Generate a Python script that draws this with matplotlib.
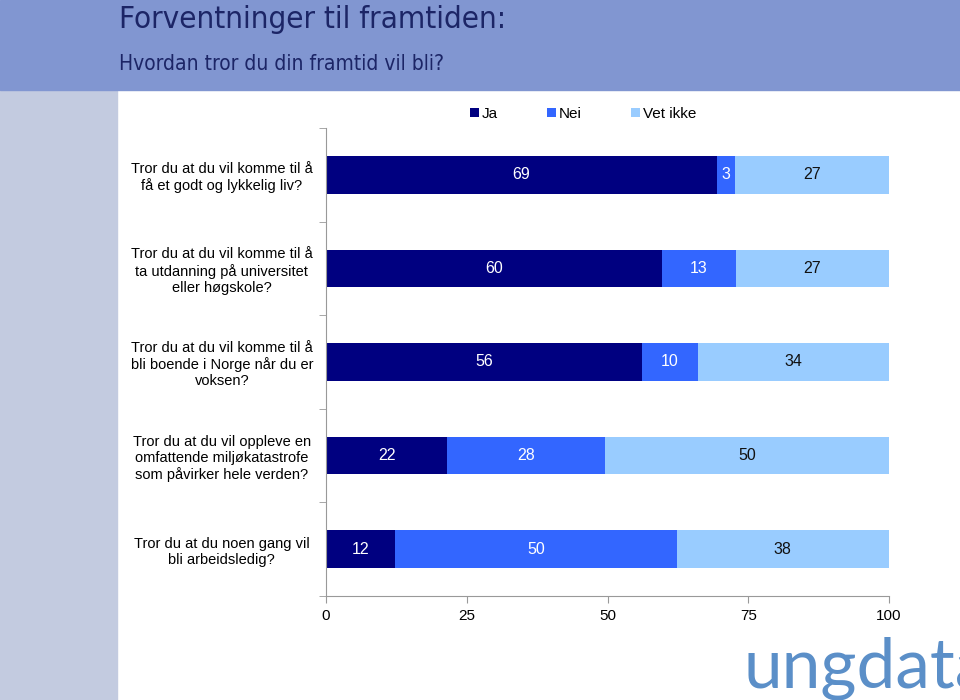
import matplotlib
matplotlib.use("Agg")
from matplotlib import pyplot as plt
from matplotlib.patches import Rectangle
import numpy as np

questions = [
    "Tror du at du vil komme til å\nfå et godt og lykkelig liv?",
    "Tror du at du vil komme til å\nta utdanning på universitet\neller høgskole?",
    "Tror du at du vil komme til å\nbli boende i Norge når du er\nvoksen?",
    "Tror du at du vil oppleve en\nomfattende miljøkatastrofe\nsom påvirker hele verden?",
    "Tror du at du noen gang vil\nbli arbeidsledig?",
]
ja = [69.4, 59.7, 56.1, 21.5, 12.3]
nei = [3.2, 13.1, 10.0, 28.1, 50.0]
vet_ikke = [27.4, 27.2, 33.9, 50.4, 37.7]
series_names = ["Ja", "Nei", "Vet ikke"]
colors = ["#000080", "#3366ff", "#99ccff"]
text_colors = ["white", "white", "#111111"]

plt.rcParams["font.family"] = ["Liberation Sans", "DejaVu Sans"]

fig = plt.figure(figsize=(9.6, 7.0), dpi=100)

# background bands
fig.patches.append(Rectangle((0, 0), 117 / 960, 610 / 700, transform=fig.transFigure,
                             color="#c3cbe0", zorder=0))
fig.patches.append(Rectangle((0, 610 / 700), 1, 90 / 700, transform=fig.transFigure,
                             color="#8196d1", zorder=0))
fig.text(119 / 960, 1 - 19 / 700, "Forventninger til framtiden:", fontsize=22.5,
         color="#1c2566", va="center", family=["DejaVu Sans"], fontstretch="condensed")
fig.text(119 / 960, 1 - 64 / 700, "Hvordan tror du din framtid vil bli?", fontsize=15,
         color="#1c2566", va="center", family=["DejaVu Sans"], fontstretch="condensed")

ax = fig.add_axes([326 / 960, 104 / 700, 563 / 960, 468 / 700])

y = np.arange(len(questions))
data = [ja, nei, vet_ikke]
left = np.zeros(len(questions))
for vals, name, col, tcol in zip(data, series_names, colors, text_colors):
    vals = np.array(vals)
    ax.barh(y, vals, left=left, height=0.4, color=col, label=name)
    for yi, l, v in zip(y, left, vals):
        ax.text(l + v / 2, yi, f"{v:.0f}", ha="center", va="center",
                color=tcol, fontsize=11.5)
    left += vals

ax.set_xlim(0, 100)
ax.set_ylim(len(questions) - 0.5, -0.5)
ax.set_xticks([0, 25, 50, 75, 100])
ax.tick_params(axis="x", length=5, color="#999999", labelsize=11, pad=4)
ax.set_yticks(y)
ax.set_yticklabels(questions, ha="center", multialignment="center", fontsize=10.5)
ax.tick_params(axis="y", which="major", length=0, pad=75)
ax.set_yticks(np.arange(-0.5, len(questions)), minor=True)
ax.tick_params(axis="y", which="minor", length=5, color="#999999")

for side in ["top", "right"]:
    ax.spines[side].set_visible(False)
ax.spines["left"].set_color("#999999")
ax.spines["bottom"].set_color("#999999")

fig.legend(loc="center", bbox_to_anchor=(583 / 960, 1 - 114 / 700), ncol=3,
           frameon=False, fontsize=11, handlelength=0.6, handleheight=0.6,
           handletextpad=0.2, columnspacing=3.2)

fig.text(744 / 960, 1 - 668 / 700, "ungdata", fontsize=50, color="#5b8fc8",
         va="center", fontweight="normal", family=["Lato", "DejaVu Sans"])

fig.savefig("out.png", dpi=100)
